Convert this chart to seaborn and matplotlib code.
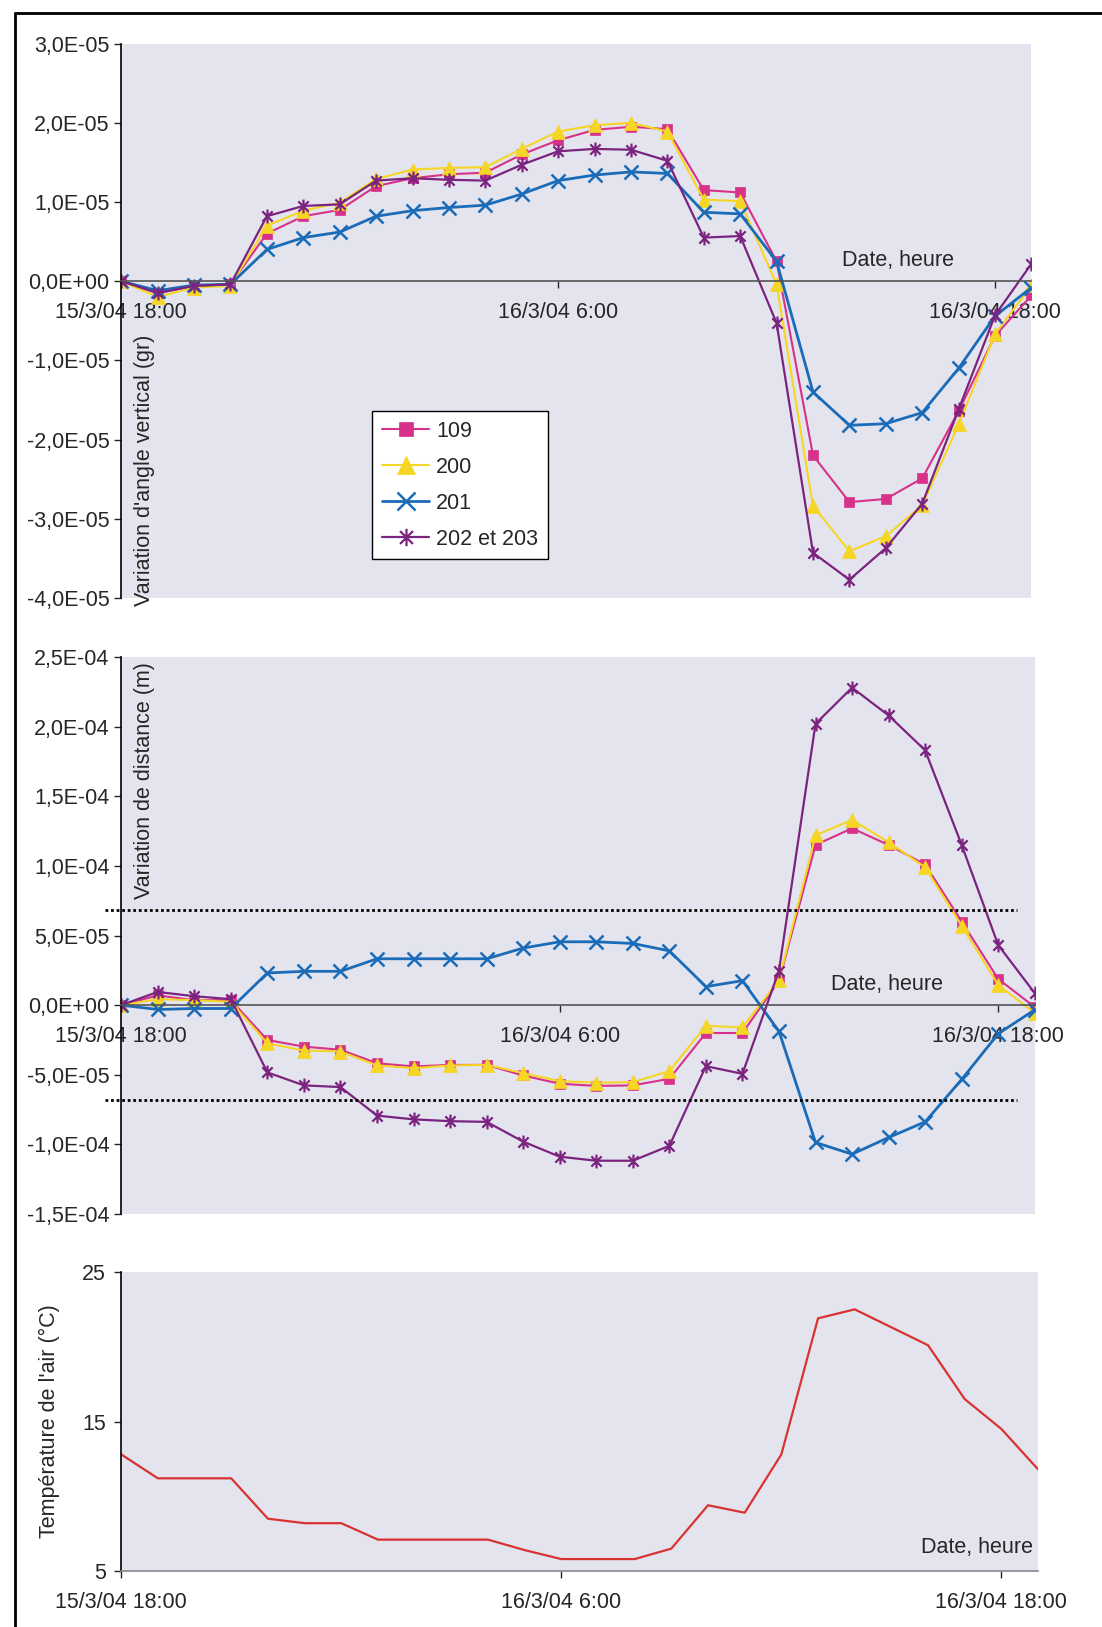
import matplotlib
matplotlib.use("Agg")
import matplotlib.pyplot as plt
import matplotlib.transforms as mtransforms
from matplotlib.lines import Line2D
from matplotlib.path import Path
from matplotlib.ticker import FuncFormatter, FixedLocator
import numpy as np
import pandas as pd
import seaborn as sns

## DONNEES ---------------------------------------------------------------
# mesures horaires du 15/3/04 18:00 au 16/3/04 19:00
heures = pd.date_range("2004-03-15 18:00", periods=26, freq="h")
tick_dates = [heures[0], heures[12], heures[24]]
tick_labels = ["15/3/04 18:00", "16/3/04 6:00", "16/3/04 18:00"]

E5 = 1e-5
# variation d'angle vertical (gr), en unites de 1E-05
angle_109 = np.array([0, -0.15, -0.06, -0.04, 0.60, 0.82, 0.90, 1.20, 1.30, 1.35, 1.37, 1.60, 1.78,
                      1.91, 1.95, 1.92, 1.15, 1.12, 0.25, -2.20, -2.79, -2.75, -2.49, -1.64, -0.69, -0.18]) * E5
angle_200 = np.array([0, -0.20, -0.08, -0.06, 0.70, 0.89, 0.99, 1.29, 1.41, 1.43, 1.44, 1.67, 1.89,
                      1.97, 2.00, 1.89, 1.03, 1.01, -0.04, -2.84, -3.41, -3.22, -2.83, -1.81, -0.67, -0.05]) * E5
angle_201 = np.array([0, -0.12, -0.05, -0.04, 0.40, 0.55, 0.62, 0.82, 0.89, 0.93, 0.96, 1.10, 1.27,
                      1.34, 1.38, 1.36, 0.87, 0.85, 0.25, -1.40, -1.82, -1.80, -1.66, -1.10, -0.44, -0.08]) * E5
angle_202 = np.array([0, -0.15, -0.06, -0.04, 0.82, 0.95, 0.97, 1.27, 1.30, 1.28, 1.27, 1.47, 1.64,
                      1.67, 1.66, 1.52, 0.55, 0.57, -0.53, -3.43, -3.77, -3.37, -2.81, -1.62, -0.43, 0.22]) * E5

# variation de distance (m), en unites de 1E-05
dist_109 = np.array([0, 0.70, 0.36, 0.36, -2.50, -2.98, -3.20, -4.17, -4.40, -4.29, -4.29, -5.05, -5.64,
                     -5.80, -5.76, -5.29, -2.00, -2.00, 1.74, 11.5, 12.7, 11.5, 10.1, 6.0, 1.88, -0.14]) * E5
dist_200 = np.array([0, 0.43, 0.36, 0.24, -2.74, -3.26, -3.33, -4.33, -4.52, -4.33, -4.29, -4.88, -5.45,
                     -5.57, -5.52, -4.74, -1.48, -1.60, 1.80, 12.2, 13.3, 11.7, 9.9, 5.7, 1.45, -0.57]) * E5
dist_201 = np.array([0, -0.31, -0.24, -0.24, 2.31, 2.43, 2.43, 3.33, 3.33, 3.33, 3.33, 4.10, 4.55,
                     4.55, 4.43, 3.90, 1.33, 1.76, -1.88, -9.86, -10.7, -9.5, -8.38, -5.33, -2.05, -0.33]) * E5
dist_202 = np.array([0, 0.95, 0.64, 0.43, -4.83, -5.76, -5.88, -7.93, -8.20, -8.33, -8.38, -9.80, -10.88,
                     -11.17, -11.17, -10.10, -4.38, -4.93, 2.48, 20.2, 22.8, 20.8, 18.3, 11.5, 4.31, 0.86]) * E5
seuil_dist = 6.8e-5   # lignes pointillees +/- seuil

# temperature de l'air (degC)
temperature = [12.8, 11.2, 11.2, 11.2, 8.5, 8.2, 8.2, 7.1, 7.1, 7.1, 7.1, 6.4, 5.8,
               5.8, 5.8, 6.5, 9.4, 8.9, 12.8, 21.9, 22.5, 21.3, 20.1, 16.5, 14.5, 11.8]

series_names = ["109", "200", "201", "202 et 203"]
angle_ticks = [-4e-5, -3e-5, -2e-5, -1e-5, 0, 1e-5, 2e-5, 3e-5]
dist_ticks = [-1.5e-4, -1e-4, -5e-5, 0, 5e-5, 1e-4, 1.5e-4, 2e-4, 2.5e-4]
temp_ticks = [5, 15, 25]

## STYLE -----------------------------------------------------------------
sns.set_style("white")
plt.rcParams["font.family"] = ["Liberation Sans", "DejaVu Sans"]
FS = 15.5
BG = "#E4E4EE"

# marqueur etoile d'Excel: X + trait vertical
star = Path([(-1, -1), (1, 1), (-1, 1), (1, -1), (0, -1.35), (0, 1.35)],
            [Path.MOVETO, Path.LINETO, Path.MOVETO, Path.LINETO, Path.MOVETO, Path.LINETO])

styles = [
    dict(color="#D8318A", marker="s", markersize=7.5, markerfacecolor="#D8318A", markeredgecolor="#D8318A", markeredgewidth=0.5, lw=1.5),
    dict(color="#F5D624", marker="^", markersize=10, markerfacecolor="#F5D624", markeredgecolor="#F5D624", markeredgewidth=0.5, lw=1.5),
    dict(color="#1A6BB8", marker="x", markersize=10, markerfacecolor="none", markeredgecolor="#1A6BB8", markeredgewidth=1.8, lw=2.0),
    dict(color="#7A237F", marker=star, markersize=10, markerfacecolor="none", markeredgecolor="#7A237F", markeredgewidth=1.6, lw=1.6),
]


def sci_fr(v, pos):
    if abs(v) < 1e-12:
        v = 0.0
    return f"{v:.1E}".replace(".", ",")


def style_axis(ax, yticks, ylim, zero_axis):
    ax.set_facecolor(BG)
    ax.set_xlim(heures[0], heures[-1])
    ax.set_ylim(*ylim)
    ax.yaxis.set_major_locator(FixedLocator(yticks))
    ax.set_xticks(tick_dates)
    ax.set_xticklabels(tick_labels)
    for s in ["top", "right"]:
        ax.spines[s].set_visible(False)
    ax.spines["left"].set_color("black")
    ax.spines["left"].set_linewidth(1.2)
    ax.spines["bottom"].set_color("#555555")
    ax.spines["bottom"].set_linewidth(1.2)
    if zero_axis:
        ax.spines["bottom"].set_position(("data", 0))
    ax.tick_params(axis="y", direction="out", length=5, width=1, labelsize=FS, pad=3.5, left=True)
    ax.tick_params(axis="x", direction="out", length=5, width=1, labelsize=FS, pad=10, bottom=True)
    ax.set_xlabel("")
    ax.set_ylabel("")


fig = plt.figure(figsize=(11.02, 16.27), dpi=100)
ax1 = fig.add_axes([0.110, 0.6325, 0.826, 0.3407])
ax2 = fig.add_axes([0.110, 0.2538, 0.829, 0.3424])
ax3 = fig.add_axes([0.110, 0.0344, 0.832, 0.1838])

## angle vertical
for y, name, st in zip([angle_109, angle_200, angle_201, angle_202], series_names, styles):
    sns.lineplot(x=heures, y=y, ax=ax1, label=name, **st)
style_axis(ax1, angle_ticks, (-4e-5, 3e-5), True)
ax1.yaxis.set_major_formatter(FuncFormatter(sci_fr))
ax1.text(0.026, -0.014, "Variation d'angle vertical (gr)", transform=ax1.transAxes,
         rotation=90, ha="center", va="bottom", fontsize=FS)
tr1 = mtransforms.blended_transform_factory(ax1.transAxes, ax1.transData)
ax1.annotate("Date, heure", xy=(0.853, 0), xycoords=tr1, xytext=(0, 7), textcoords="offset points",
             ha="center", va="bottom", fontsize=FS)
leg = ax1.legend(loc="upper left", bbox_to_anchor=(0.276, 0.3375), fontsize=FS, frameon=True,
                 fancybox=False, edgecolor="black", facecolor="white", framealpha=1,
                 handlelength=2.2, handletextpad=0.3, labelspacing=0.7, borderpad=0.45,
                 borderaxespad=0, markerscale=1.25)
leg.get_frame().set_linewidth(1.0)

## distance
for y, st in zip([dist_109, dist_200, dist_201, dist_202], styles):
    sns.lineplot(x=heures, y=y, ax=ax2, **st)
if ax2.get_legend() is not None:
    ax2.get_legend().remove()
style_axis(ax2, dist_ticks, (-1.5e-4, 2.5e-4), True)
ax2.yaxis.set_major_formatter(FuncFormatter(sci_fr))
ax2.text(0.026, 0.99, "Variation de distance (m)", transform=ax2.transAxes,
         rotation=90, ha="center", va="top", fontsize=FS)
tr2 = mtransforms.blended_transform_factory(ax2.transAxes, ax2.transData)
for s in [seuil_dist, -seuil_dist]:
    ax2.plot([-0.0175, 0.98], [s, s], transform=tr2, color="black", lw=2.0,
             linestyle=(0, (1, 1)), clip_on=False)
ax2.annotate("Date, heure", xy=(0.838, 0), xycoords=tr2, xytext=(0, 7), textcoords="offset points",
             ha="center", va="bottom", fontsize=FS)

## temperature
sns.lineplot(x=heures, y=temperature, ax=ax3, color="#D93232", lw=1.6)
style_axis(ax3, temp_ticks, (5, 25), False)
ax3.tick_params(axis="y", pad=6)
ax3.spines["bottom"].set_color("#888888")
ax3.set_ylabel("Température de l'air (°C)", fontsize=FS, va="center")
ax3.yaxis.set_label_coords(-0.078, 0.5)
ax3.text(0.995, 0.045, "Date, heure", transform=ax3.transAxes, ha="right", va="bottom", fontsize=FS)

# cadre de la figure (bords gauche et haut)
fig.add_artist(Line2D([0.0136, 1.0], [0.992, 0.992], transform=fig.transFigure, color="black", lw=2))
fig.add_artist(Line2D([0.0136, 0.0136], [0.0, 0.992], transform=fig.transFigure, color="black", lw=2))

fig.savefig("out.png", dpi=100)
